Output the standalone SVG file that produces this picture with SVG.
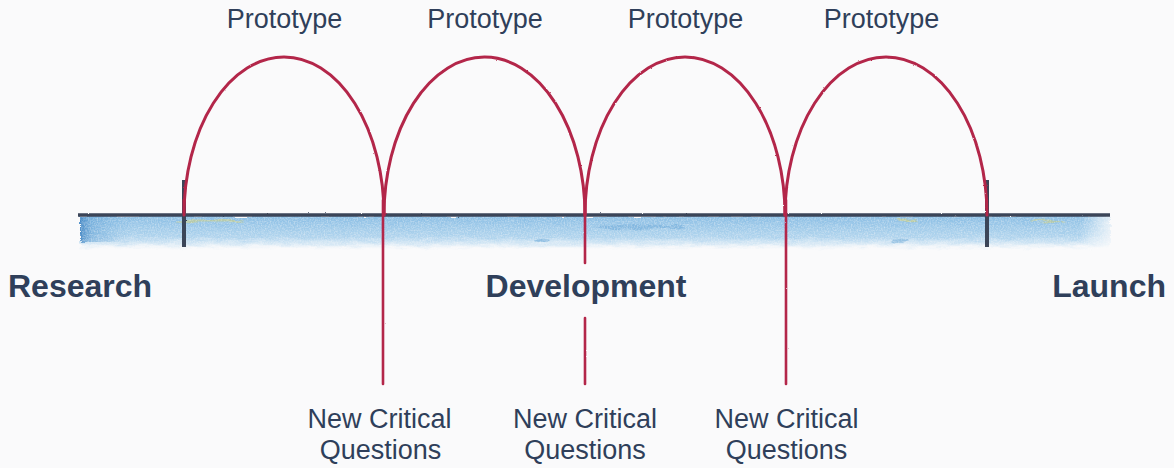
<svg xmlns="http://www.w3.org/2000/svg" width="1174" height="468" viewBox="0 0 1174 468">
  <defs>
    <style>
      .lbl { font-family: "Liberation Sans", Arial, sans-serif; font-size: 27px; fill: #2f3f5a; text-anchor: middle; }
      .stage { font-family: "Liberation Sans", Arial, sans-serif; font-size: 32px; font-weight: bold; fill: #2f3f5a; }
      .loop { fill: none; stroke: #b3264a; stroke-width: 3; stroke-linecap: round; }
      .leg { fill: none; stroke: #b3264a; stroke-width: 2.6; stroke-linecap: round; }
      .axis { stroke: #3b4559; stroke-width: 3.5; stroke-linecap: butt; }
      .tick { stroke: #3b4559; stroke-width: 4; }
    </style>
    <linearGradient id="wash" x1="0" y1="0" x2="0" y2="1">
      <stop offset="0" stop-color="#84bbe3" stop-opacity="0.95"/>
      <stop offset="0.65" stop-color="#a9d0ec" stop-opacity="0.9"/>
      <stop offset="0.85" stop-color="#c6e0f2" stop-opacity="0.65"/>
      <stop offset="1" stop-color="#d9eaf6" stop-opacity="0"/>
    </linearGradient>
    <linearGradient id="washEdge" x1="0" y1="0" x2="1" y2="0">
      <stop offset="0" stop-color="#3a80c0" stop-opacity="0.85"/>
      <stop offset="0.012" stop-color="#5f9fd4" stop-opacity="0.5"/>
      <stop offset="0.05" stop-color="#7bb5df" stop-opacity="0"/>
    </linearGradient>
    <linearGradient id="washEnd" x1="0" y1="0" x2="1" y2="0">
      <stop offset="0" stop-color="#fff" stop-opacity="0"/>
      <stop offset="0.97" stop-color="#fff" stop-opacity="0"/>
      <stop offset="1" stop-color="#fafafb" stop-opacity="0.8"/>
    </linearGradient>
    <filter id="rough" x="-5%" y="-50%" width="110%" height="200%">
      <feTurbulence type="fractalNoise" baseFrequency="0.06 0.25" numOctaves="3" seed="4" result="n"/>
      <feDisplacementMap in="SourceGraphic" in2="n" scale="6" xChannelSelector="R" yChannelSelector="G" result="d"/>
      <feGaussianBlur in="d" stdDeviation="0.6" result="b"/>
      <feTurbulence type="fractalNoise" baseFrequency="0.7" numOctaves="2" seed="9" result="g"/>
      <feColorMatrix in="g" type="matrix" values="0 0 0 0 0  0 0 0 0 0  0 0 0 0 0  0 0 0 -0.9 1.35" result="ga"/>
      <feComposite in="b" in2="ga" operator="in"/>
    </filter>
    <filter id="pencil" x="-10%" y="-10%" width="120%" height="120%">
      <feTurbulence type="fractalNoise" baseFrequency="0.6" numOctaves="2" seed="2" result="n"/>
      <feDisplacementMap in="SourceGraphic" in2="n" scale="1.6" xChannelSelector="R" yChannelSelector="G"/>
    </filter>
  </defs>

  <rect width="1174" height="468" fill="#fafafb"/>

  <g id="timeline">
    <g filter="url(#rough)">
      <rect x="80" y="216" width="1030" height="33" fill="url(#wash)"/>
      <rect x="80" y="216" width="1030" height="26" fill="url(#washEdge)"/>
      <rect x="80" y="216" width="1030" height="33" fill="url(#washEnd)"/>
      <ellipse cx="210" cy="221" rx="35" ry="1.5" fill="#d2d07a" opacity="0.55"/>
      <ellipse cx="640" cy="227" rx="45" ry="2.5" fill="#6aa8d8" opacity="0.5"/>
      <ellipse cx="907" cy="220" rx="10" ry="1.5" fill="#d2d07a" opacity="0.6"/>
      <ellipse cx="1048" cy="221" rx="18" ry="1.5" fill="#d2d07a" opacity="0.5"/>
      <ellipse cx="543" cy="241" rx="8" ry="2" fill="#6aa8d8" opacity="0.6"/>
      <ellipse cx="900" cy="241" rx="8" ry="2" fill="#6aa8d8" opacity="0.5"/>
    </g>
    <g filter="url(#pencil)">
      <line class="axis" x1="78" y1="215" x2="1110" y2="215"/>
      <line class="tick" x1="184" y1="180" x2="184" y2="247"/>
      <line class="tick" x1="987" y1="180" x2="987" y2="247"/>
    </g>
  </g>

  <g id="connectors" filter="url(#pencil)">
    <path class="loop" d="M184,200 L184,215 M184,215 A100,158 0 0 1 384,215"/>
    <path class="loop" d="M384,215 A100.5,158 0 0 1 585,215"/>
    <path class="loop" d="M585,215 A100,158 0 0 1 785,215"/>
    <path class="loop" d="M785,215 A101,158 0 0 1 987,215"/>
    <line class="leg" x1="383" y1="200" x2="383" y2="384"/>
    <line class="leg" x1="585" y1="200" x2="585" y2="263"/>
    <line class="leg" x1="585" y1="318" x2="585" y2="384"/>
    <line class="leg" x1="786" y1="200" x2="786" y2="384"/>
  </g>

  <g id="prototype-1"><text class="lbl" x="284.5" y="28">Prototype</text></g>
  <g id="prototype-2"><text class="lbl" x="485" y="28">Prototype</text></g>
  <g id="prototype-3"><text class="lbl" x="685.5" y="28">Prototype</text></g>
  <g id="prototype-4"><text class="lbl" x="881.5" y="28">Prototype</text></g>

  <g id="research"><text class="stage" x="8" y="297">Research</text></g>
  <g id="development"><text class="stage" x="586" y="297" text-anchor="middle">Development</text></g>
  <g id="launch"><text class="stage" x="1166" y="297" text-anchor="end">Launch</text></g>

  <g id="question-1"><text class="lbl" x="379.5" y="428">New Critical</text><text class="lbl" x="380.5" y="459">Questions</text></g>
  <g id="question-2"><text class="lbl" x="585" y="428">New Critical</text><text class="lbl" x="585" y="459">Questions</text></g>
  <g id="question-3"><text class="lbl" x="786.5" y="428">New Critical</text><text class="lbl" x="786.5" y="459">Questions</text></g>
</svg>
